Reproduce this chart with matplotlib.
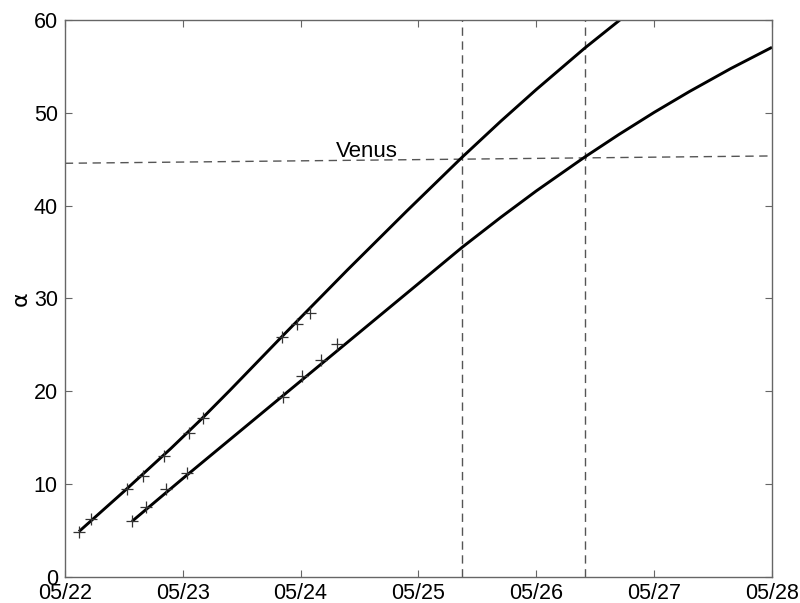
import matplotlib
matplotlib.use("Agg")
import matplotlib.pyplot as plt

# x in days since 05/22 00:00
tick_days = [0, 1, 2, 3, 4, 5, 6]
tick_labels = ["05/22", "05/23", "05/24", "05/25", "05/26", "05/27", "05/28"]
y_ticks = [0, 10, 20, 30, 40, 50, 60]

# fitted curves
upper_x = [0.12, 0.50, 0.90, 1.15, 1.40, 1.85, 2.40, 2.90, 3.37, 3.70, 4.00, 4.41, 4.73, 4.85]
upper_y = [4.9, 9.2, 13.85, 16.9, 20.1, 26.0, 33.1, 39.4, 45.2, 49.1, 52.5, 56.95, 60.2, 61.4]
lower_x = [0.57, 1.00, 1.50, 2.00, 2.50, 3.00, 3.37, 3.70, 4.00, 4.41, 4.70, 5.00, 5.30, 5.65, 6.00]
lower_y = [6.0, 10.6, 15.85, 21.1, 26.35, 31.6, 35.5, 38.75, 41.58, 45.22, 47.65, 50.04, 52.29, 54.76, 57.05]

# observations (+)
upper_obs_x = [0.12, 0.22, 0.53, 0.66, 0.84, 1.05, 1.17, 1.84, 1.97, 2.08]
upper_obs_y = [4.9, 6.2, 9.5, 10.9, 13.0, 15.5, 17.1, 25.8, 27.3, 28.4]
lower_obs_x = [0.57, 0.69, 0.86, 1.04, 1.85, 2.01, 2.17, 2.31]
lower_obs_y = [6.0, 7.5, 9.5, 11.2, 19.35, 21.6, 23.4, 25.05]

# Venus reference line and crossing times
venus_x = [0.0, 6.0]
venus_y = [44.56, 45.35]
cross_days = [3.373, 4.41]
venus_label = "Venus"
venus_label_pos = (2.566, 45.8)

plt.rcParams['font.family'] = ['Liberation Sans', 'DejaVu Sans']
fig = plt.figure(figsize=(8.0, 6.03), dpi=100)
ax = fig.add_axes([0.081, 0.043, 0.884, 0.924])

dash_color = "#555555"
ax.plot(venus_x, venus_y, color=dash_color, lw=1.0, dashes=(6, 4))
for d in cross_days:
    ax.plot([d, d], [0, 60], color=dash_color, lw=1.0, dashes=(6, 4))

ax.plot(upper_x, upper_y, color="black", lw=2.1, solid_capstyle="butt", solid_joinstyle="round")
ax.plot(lower_x, lower_y, color="black", lw=2.1, solid_capstyle="butt", solid_joinstyle="round")
ax.plot(upper_obs_x, upper_obs_y, ls="none", marker="+", ms=8, mew=0.9, color="#333333")
ax.plot(lower_obs_x, lower_obs_y, ls="none", marker="+", ms=8, mew=0.9, color="#333333")

ax.text(venus_label_pos[0], venus_label_pos[1], venus_label, ha="center", va="center",
        fontsize=16, family=['Liberation Sans', 'DejaVu Sans'])

ax.set_xlim(0, 6)
ax.set_ylim(0, 60)
ax.set_xticks(tick_days)
ax.set_xticklabels(tick_labels)
ax.set_yticks(y_ticks)
for lab in ax.get_xticklabels() + ax.get_yticklabels():
    lab.set_fontsize(15.5)
    lab.set_family(['Liberation Sans', 'DejaVu Sans'])
ax.tick_params(direction="in", length=5, width=0.8, color="#666666", top=True, right=True)
ax.tick_params(axis="x", pad=4)
ax.tick_params(axis="y", pad=5)
for s in ax.spines.values():
    s.set_color("#666666")
    s.set_linewidth(1.0)
ax.set_ylabel("α", fontsize=16, family=['DejaVu Sans'], labelpad=2)

fig.savefig("out.png", dpi=100)
